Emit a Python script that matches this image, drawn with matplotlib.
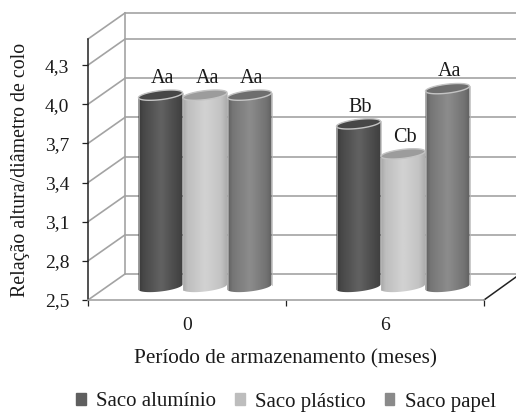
import numpy as np
import matplotlib
matplotlib.use('Agg')
import matplotlib.pyplot as plt
from matplotlib.patches import Polygon, Patch

plt.rcParams['font.family'] = ['Liberation Serif', 'DejaVu Serif']

# Data
periods = ['0', '6']
series = ['Saco alumínio', 'Saco plástico', 'Saco papel']
aluminio = [3.97, 3.75]
plastico = [3.97, 3.52]
papel = [3.97, 4.02]
letras_aluminio = ['Aa', 'Bb']
letras_plastico = ['Aa', 'Cb']
letras_papel = ['Aa', 'Aa']
yticks = [2.5, 2.8, 3.1, 3.4, 3.7, 4.0, 4.3]

W, H = 516, 413
fig = plt.figure(figsize=(W / 100, H / 100), dpi=100)
ax = fig.add_axes([88 / W, 1 - 300 / H, 396 / W, 261 / H])

xmin, xmax, ymin, ymax = -0.5, 1.5, 2.5, 4.5
px_x = (xmax - xmin) / 396
px_y = (ymax - ymin) / 261

# 3d look: how far the back wall sits from the front plane
back_x, back_y = 37 * px_x, 26 * px_y
wall_color = '#a3a3a3'
right_edge = xmin + (516 - 88) * px_x

for v in yticks + [ymax]:
    ax.plot([xmin, xmin + back_x], [v, v + back_y], color=wall_color, lw=1.2, clip_on=False, zorder=1)
    ax.plot([xmin + back_x, right_edge], [v + back_y, v + back_y], color=wall_color, lw=1.2, clip_on=False, zorder=1)
ax.plot([xmin + back_x] * 2, [ymin + back_y, ymax + back_y], color=wall_color, lw=1.2, clip_on=False, zorder=1)
ax.plot([xmax, xmax + 32 * px_x], [ymin, ymin + 23 * px_y], color='#222222', lw=1.1, clip_on=False, zorder=1)


def ellipse_xy(cx, cy, t):
    a, b, tilt = 22 * px_x, 4.5 * px_y, 2.5 * px_y
    return cx + a * np.cos(t), cy + b * np.sin(t) + tilt * np.cos(t)


def cylinder(cx, value, shades, top_color):
    # body: lower half of base ellipse + upper half of top ellipse
    mid_x, mid_y = cx + 18 * px_x, 13 * px_y
    base = ymin + mid_y
    top = value + mid_y
    bx, by = ellipse_xy(mid_x, base, np.linspace(np.pi, 2 * np.pi, 40))
    tx, ty = ellipse_xy(mid_x, top, np.linspace(0, np.pi, 40))
    body = Polygon(np.column_stack([np.r_[bx, tx], np.r_[by, ty]]), closed=True,
                   facecolor='none', edgecolor='none', zorder=3)
    ax.add_patch(body)
    pos = np.linspace(0, 1, 64)
    grad = np.interp(pos, [0, 0.12, 0.5, 0.85, 1], shades)[None, :]
    half = 23 * px_x
    im = ax.imshow(grad, cmap='gray', vmin=0, vmax=255, aspect='auto', zorder=3,
                   extent=[mid_x - half, mid_x + half, base - 10 * px_y, top + 10 * px_y])
    im.set_clip_path(body)
    ex, ey = ellipse_xy(mid_x, top, np.linspace(0, 2 * np.pi, 80))
    ax.fill(ex, ey, facecolor=top_color, edgecolor='#c4c4c4', lw=1.0, zorder=4)
    ax.plot([tx[-1], bx[0]], [ty[-1], by[0]], color='#b5b5b5', lw=0.5, zorder=4)
    ax.plot([tx[0], bx[-1]], [ty[0], by[-1]], color='#b5b5b5', lw=0.5, zorder=4)
    return mid_x, top


bar_offset = 44.5 * px_x
groups = [
    (aluminio, letras_aluminio, -1, [58, 72, 98, 72, 62], '#474747'),
    (plastico, letras_plastico, 0, [165, 190, 210, 195, 170], '#9c9c9c'),
    (papel, letras_papel, 1, [92, 118, 140, 115, 95], '#6e6e6e'),
]
for vals, letras, k, shades, top_color in groups:
    for i, (v, letra) in enumerate(zip(vals, letras)):
        cx, top = cylinder(i + k * bar_offset, v, shades, top_color)
        ax.annotate(letra, xy=(cx, top), xytext=(1.5, 12), textcoords='offset points',
                    ha='center', va='center', fontsize=14.5, color='#1a1a1a', zorder=5)

ax.set_xlim(xmin, xmax)
ax.set_ylim(ymin, ymax)
ax.patch.set_alpha(0)

for s in ['top', 'right']:
    ax.spines[s].set_visible(False)
ax.spines['left'].set_color('#222222')
ax.spines['left'].set_linewidth(1.1)
ax.spines['bottom'].set_color(wall_color)
ax.spines['bottom'].set_linewidth(1.2)

ax.set_yticks(yticks)
ax.set_yticklabels([f'{v:.1f}'.replace('.', ',') for v in yticks], fontsize=14, color='#1a1a1a')
ax.tick_params(axis='y', length=4.5, width=0.9, color='#222222', pad=9)

ax.set_xticks([-0.5, 0.5, 1.5])
ax.set_xticklabels([])
ax.tick_params(axis='x', which='major', length=4.5, width=0.9, color='#222222')
ax.set_xticks([0, 1], minor=True)
ax.set_xticklabels(periods, minor=True, fontsize=14, color='#1a1a1a')
ax.tick_params(axis='x', which='minor', length=0, pad=12)

fig.text(285 / W, 1 - 359 / H, 'Período de armazenamento (meses)', ha='center', va='center',
         fontsize=15.3, color='#1a1a1a')
fig.text(21 / W, 1 - 170 / H, 'Relação altura/diâmetro de colo', ha='center', va='center',
         rotation=90, fontsize=14.3, color='#1a1a1a')

handles = [Patch(color=c) for c in ['#5f5f5f', '#bdbdbd', '#8a8a8a']]
fig.legend(handles, series, loc='center', bbox_to_anchor=(286 / W, 1 - 402 / H), ncol=3, frameon=False,
           fontsize=15, labelcolor='#1a1a1a', handlelength=0.45, handleheight=0.45,
           handletextpad=0.5, columnspacing=0.92, borderpad=0)

fig.savefig('out.png', dpi=100)
